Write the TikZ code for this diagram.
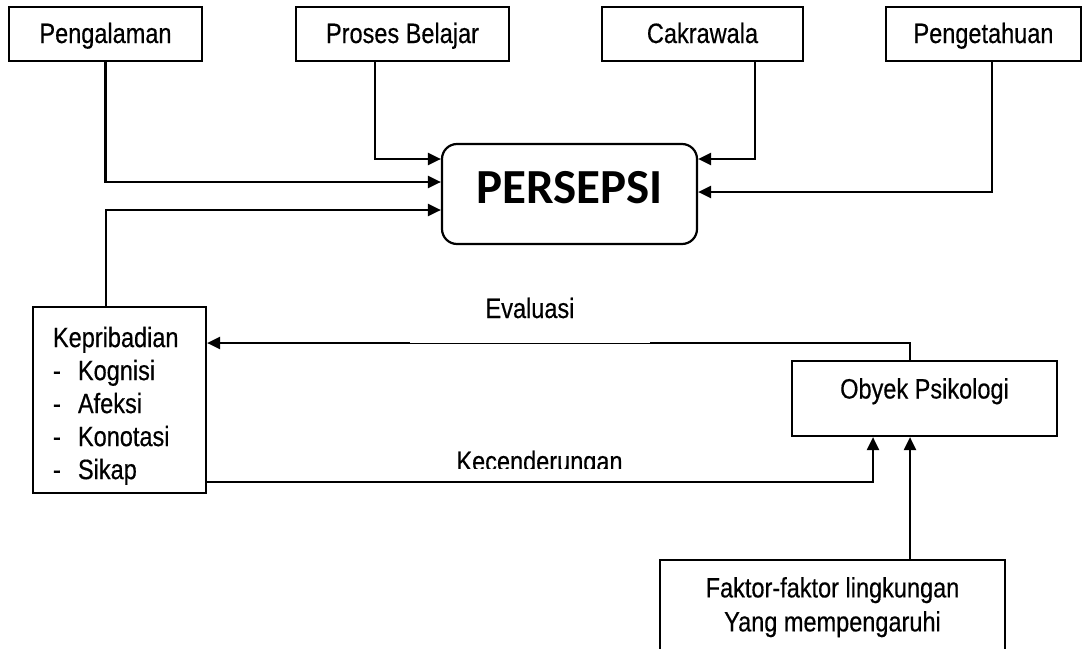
\documentclass[tikz,border=0pt]{standalone}
\usepackage{fontspec}
\setmainfont{Liberation Sans}[FakeStretch=0.84,FakeBold=0.4]
\newfontfamily\persfont{Carlito}
\usetikzlibrary{arrows.meta}
\newcommand\dfont{\fontsize{28}{33}\selectfont}
\begin{document}
\begin{tikzpicture}[x=1pt,y=-1pt,
  box/.style={draw, line width=2.2pt, inner sep=0pt, font=\dfont},
  topbox/.style={box, minimum height=54pt, text height=20.4pt, text depth=2.4pt},
  lbl/.style={font=\dfont, anchor=base, inner sep=0pt},
  arr/.style={line width=2.2pt, -{Triangle[length=13pt,width=12pt]}}]
\useasboundingbox[fill=white] (0,0) rectangle (1083,648);

% top boxes
\node[topbox, minimum width=193pt] (A) at (105.5,34) {Pengalaman};
\node[topbox, minimum width=213pt] (B) at (402.5,34) {Proses Belajar};
\node[topbox, minimum width=201pt] (C) at (702.5,34) {Cakrawala};
\node[topbox, minimum width=195pt] (D) at (983.5,34) {Pengetahuan};

% central node
\node[box, rounded corners=15pt, minimum width=255pt, minimum height=100pt,
      font=\persfont\bfseries\fontsize{49}{52}\selectfont,
      text height=31.6pt, text depth=13.6pt] (P) at (569.5,194) {PERSEPSI};

% personality
\node[box, align=left, text width=133pt, inner xsep=20pt, minimum height=186pt] (K) at (119.5,400)
  {\rule{0pt}{32pt}Kepribadian\\ \makebox[25pt][l]{-}Kognisi\\ \makebox[25pt][l]{-}Afeksi\\ \makebox[25pt][l]{-}Konotasi\\ \makebox[25pt][l]{-}Sikap};

% object
\node[box, minimum width=265pt, minimum height=75pt, text height=20pt, text depth=20pt] (O) at (924.5,398.5) {Obyek Psikologi};

% environment factors
\node[box, anchor=north, minimum width=345pt, align=center, inner ysep=17pt] (F) at (832.5,559)
  {Faktor-faktor lingkungan\\[1pt] Yang mempengaruhi};

% connectors into PERSEPSI
\draw[arr] (A.south) |- ([yshift=12pt]P.west);
\draw[arr] ([xshift=-27.5pt]B.south) |- ([yshift=35pt]P.west);
\draw[arr] ([xshift=-13.5pt]K.north) |- ([yshift=-16pt]P.west);
\draw[arr] ([xshift=52.5pt]C.south) |- ([yshift=35pt]P.east);
\draw[arr] ([xshift=8.5pt]D.south) |- ([yshift=2pt]P.east);

% evaluation
\draw[arr] ([xshift=-14.5pt]O.north) |- ([yshift=57pt]K.east);
\fill[white] (410,339.5) rectangle (650,347);
\draw[line width=0.9pt] (410,343) -- (650,343);
\node[lbl] (E) at (530,318) {Evaluasi};

% tendency
\draw[arr] ([yshift=-82pt]K.east) -| ([xshift=-51.5pt]O.south);
\begin{scope}
  \clip (400,440) rectangle (700,468);
  \node[lbl] (Kc) at (539.5,471) {Kecenderungan};
\end{scope}

% environment to object
\draw[arr] ([xshift=77.5pt]F.north) -- ([xshift=-14.5pt]O.south);
\end{tikzpicture}
\end{document}
